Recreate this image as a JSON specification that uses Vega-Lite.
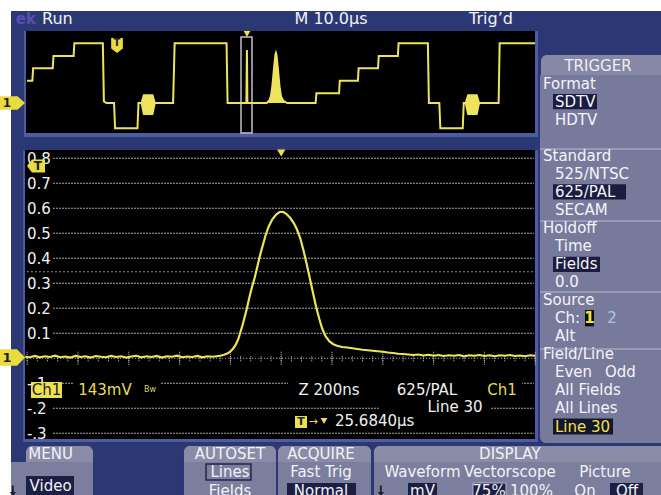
{
"$schema": "https://vega.github.io/schema/vega-lite/v6.json",
"width": 661, "height": 495,
"autosize": {"type": "none"},
"padding": 0,
"background": "#ffffff",
"config": {"view": {"stroke": null}, "text": {"font": "DejaVu Sans", "fontSize": 15}},
"datasets": {
"one": [{}],
"grid": [{"v":0.8,"lab":"0.8"},{"v":0.7,"lab":"0.7"},{"v":0.6,"lab":"0.6"},{"v":0.5,"lab":"0.5"},{"v":0.4,"lab":"0.4"},{"v":0.3,"lab":"0.3"},{"v":0.2,"lab":"0.2"},{"v":0.1,"lab":"0.1"},{"v":-0.1,"lab":"-.1"},{"v":-0.2,"lab":"-.2"},{"v":-0.3,"lab":"-.3"}],
"minor": [{"t":-1000},{"t":-960},{"t":-920},{"t":-880},{"t":-840},{"t":-800},{"t":-760},{"t":-720},{"t":-680},{"t":-640},{"t":-600},{"t":-560},{"t":-520},{"t":-480},{"t":-440},{"t":-400},{"t":-360},{"t":-320},{"t":-280},{"t":-240},{"t":-200},{"t":-160},{"t":-120},{"t":-80},{"t":-40},{"t":0},{"t":40},{"t":80},{"t":120},{"t":160},{"t":200},{"t":240},{"t":280},{"t":320},{"t":360},{"t":400},{"t":440},{"t":480},{"t":520},{"t":560},{"t":600},{"t":640},{"t":680},{"t":720},{"t":760},{"t":800},{"t":840},{"t":880},{"t":920},{"t":960},{"t":1000}],
"major": [{"t":-1000},{"t":-800},{"t":-600},{"t":-400},{"t":-200},{"t":0},{"t":200},{"t":400},{"t":600},{"t":800},{"t":1000}],
"pulse": [{"t":-1008,"v":0.006},{"t":-990,"v":0.004},{"t":-970,"v":0.009},{"t":-950,"v":0.004},{"t":-930,"v":0.008},{"t":-910,"v":0.005},{"t":-890,"v":0.010},{"t":-870,"v":0.004},{"t":-850,"v":0.007},{"t":-830,"v":0.003},{"t":-810,"v":0.009},{"t":-790,"v":0.005},{"t":-770,"v":0.008},{"t":-750,"v":0.003},{"t":-730,"v":0.009},{"t":-710,"v":0.006},{"t":-690,"v":0.004},{"t":-670,"v":0.009},{"t":-650,"v":0.005},{"t":-630,"v":0.008},{"t":-610,"v":0.003},{"t":-590,"v":0.007},{"t":-570,"v":0.010},{"t":-550,"v":0.004},{"t":-530,"v":0.008},{"t":-510,"v":0.005},{"t":-490,"v":0.009},{"t":-470,"v":0.003},{"t":-450,"v":0.008},{"t":-430,"v":0.006},{"t":-410,"v":0.010},{"t":-390,"v":0.004},{"t":-370,"v":0.007},{"t":-350,"v":0.005},{"t":-330,"v":0.009},{"t":-310,"v":0.004},{"t":-290,"v":0.008},{"t":-270,"v":0.006},{"t":-255,"v":0.008},{"t":-240,"v":0.010},{"t":-225,"v":0.014},{"t":-210,"v":0.020},{"t":-200,"v":0.027},{"t":-190,"v":0.038},{"t":-180,"v":0.052},{"t":-170,"v":0.074},{"t":-162,"v":0.10},{"t":-153,"v":0.13},{"t":-145,"v":0.16},{"t":-135,"v":0.20},{"t":-125,"v":0.245},{"t":-115,"v":0.285},{"t":-105,"v":0.32},{"t":-95,"v":0.362},{"t":-85,"v":0.405},{"t":-75,"v":0.443},{"t":-62,"v":0.49},{"t":-50,"v":0.525},{"t":-35,"v":0.556},{"t":-20,"v":0.575},{"t":-8,"v":0.584},{"t":0,"v":0.586},{"t":8,"v":0.585},{"t":20,"v":0.578},{"t":35,"v":0.562},{"t":50,"v":0.54},{"t":62,"v":0.515},{"t":75,"v":0.48},{"t":88,"v":0.43},{"t":100,"v":0.378},{"t":113,"v":0.318},{"t":125,"v":0.262},{"t":137,"v":0.207},{"t":150,"v":0.157},{"t":162,"v":0.117},{"t":175,"v":0.087},{"t":190,"v":0.067},{"t":205,"v":0.056},{"t":220,"v":0.050},{"t":240,"v":0.045},{"t":260,"v":0.043},{"t":280,"v":0.040},{"t":300,"v":0.037},{"t":320,"v":0.034},{"t":340,"v":0.032},{"t":360,"v":0.030},{"t":380,"v":0.028},{"t":400,"v":0.026},{"t":420,"v":0.023},{"t":440,"v":0.021},{"t":460,"v":0.018},{"t":480,"v":0.017},{"t":500,"v":0.015},{"t":520,"v":0.013},{"t":540,"v":0.015},{"t":560,"v":0.011},{"t":580,"v":0.014},{"t":600,"v":0.010},{"t":620,"v":0.013},{"t":640,"v":0.009},{"t":660,"v":0.012},{"t":680,"v":0.010},{"t":700,"v":0.013},{"t":720,"v":0.008},{"t":740,"v":0.012},{"t":760,"v":0.010},{"t":780,"v":0.013},{"t":800,"v":0.009},{"t":820,"v":0.012},{"t":840,"v":0.008},{"t":860,"v":0.012},{"t":880,"v":0.010},{"t":900,"v":0.013},{"t":920,"v":0.009},{"t":940,"v":0.011},{"t":960,"v":0.008},{"t":980,"v":0.012},{"t":999,"v":0.010}],
"overview": [{"t":0.2,"v":0.268},{"t":1.25,"v":0.268},{"t":1.4,"v":0.416},{"t":5.25,"v":0.416},{"t":5.4,"v":0.564},{"t":9.35,"v":0.564},{"t":9.5,"v":0.716},{"t":15.1,"v":0.716},{"t":15.3,"v":0.02},{"t":15.8,"v":0.0},{"t":17.3,"v":0.0},{"t":17.5,"v":-0.304},{"t":21.9,"v":-0.304},{"t":22.1,"v":0.0},{"t":28.9,"v":0.0},{"t":29.2,"v":0.716},{"t":39.4,"v":0.716},{"t":39.6,"v":0.0},{"t":43.3,"v":0.0},{"t":43.4,"v":0.636},{"t":43.5,"v":0.0},{"t":47.3,"v":0.0},{"t":47.8,"v":0.03},{"t":48.1,"v":0.08},{"t":48.4,"v":0.2},{"t":48.7,"v":0.4},{"t":49.0,"v":0.58},{"t":49.1,"v":0.6},{"t":49.2,"v":0.58},{"t":49.5,"v":0.4},{"t":49.8,"v":0.2},{"t":50.1,"v":0.08},{"t":50.5,"v":0.03},{"t":51.3,"v":0.0},{"t":56.9,"v":0.0},{"t":57.05,"v":0.116},{"t":61.5,"v":0.116},{"t":61.65,"v":0.268},{"t":65.2,"v":0.268},{"t":65.35,"v":0.416},{"t":69.15,"v":0.416},{"t":69.3,"v":0.564},{"t":73.05,"v":0.564},{"t":73.2,"v":0.716},{"t":78.95,"v":0.716},{"t":79.15,"v":0.0},{"t":81.2,"v":0.0},{"t":81.4,"v":-0.304},{"t":85.8,"v":-0.304},{"t":86.0,"v":0.0},{"t":92.85,"v":0.0},{"t":93.05,"v":0.716},{"t":100,"v":0.716}],
"ovpulse": [{"t":47.3,"v":0.0},{"t":47.8,"v":0.03},{"t":48.1,"v":0.08},{"t":48.4,"v":0.2},{"t":48.7,"v":0.4},{"t":49.0,"v":0.58},{"t":49.1,"v":0.6},{"t":49.2,"v":0.58},{"t":49.5,"v":0.4},{"t":49.8,"v":0.2},{"t":50.1,"v":0.08},{"t":50.5,"v":0.03},{"t":51.3,"v":0.0}],
"burst": [{"g":1,"t":22.5,"hi":0,"lo":0},{"g":1,"t":23.0,"hi":0.104,"lo":-0.144},{"g":1,"t":25.0,"hi":0.104,"lo":-0.144},{"g":1,"t":25.5,"hi":0,"lo":0},{"g":2,"t":86.2,"hi":0,"lo":0},{"g":2,"t":86.7,"hi":0.104,"lo":-0.144},{"g":2,"t":88.7,"hi":0.104,"lo":-0.144},{"g":2,"t":89.2,"hi":0,"lo":0}],
"seps": [{"line":4.63},{"line":8.62},{"line":12.55},{"line":15.71}],
"heads": [{"label":"Format","line":1},{"label":"Standard","line":5},{"label":"Holdoff","line":9},{"label":"Source","line":13},{"label":"Field/Line","line":16}],
"opts": [{"label":"SDTV","line":2},{"label":"HDTV","line":3},{"label":"525/NTSC","line":6},{"label":"625/PAL","line":7},{"label":"SECAM","line":8},{"label":"Time","line":10},{"label":"Fields","line":11},{"label":"0.0","line":12},{"label":"Ch:","line":14},{"label":"Alt","line":15},{"label":"Even","line":17},{"label":"All Fields","line":18},{"label":"All Lines","line":19}]
},
"layer": [
{"layer": [
 {"data":{"name":"one"},"mark":{"type":"rect","color":"#2c3874"},"encoding":{"x":{"datum":-1063.7,"scale":{"domain":[-1107,1495],"nice":false,"zero":false},"axis":null},"x2":{"datum":1495},"y":{"datum":-0.547,"scale":{"domain":[-0.547,1.433],"nice":false,"zero":false},"axis":null},"y2":{"datum":1.389}}},
 {"data":{"name":"one"},"mark":{"type":"rect","color":"#4d5da0"},"encoding":{"x":{"datum":-1016,"scale":{"domain":[-1107,1495],"nice":false,"zero":false},"axis":null},"x2":{"datum":1011},"y":{"datum":-0.335,"scale":{"domain":[-0.547,1.433],"nice":false,"zero":false},"axis":null},"y2":{"datum":0.833}}},
 {"data":{"name":"one"},"mark":{"type":"rect","color":"#000000"},"encoding":{"x":{"datum":-1008.6,"scale":{"domain":[-1107,1495],"nice":false,"zero":false},"axis":null},"x2":{"datum":999},"y":{"datum":-0.323,"scale":{"domain":[-0.547,1.433],"nice":false,"zero":false},"axis":null},"y2":{"datum":0.833}}},
 {"data":{"name":"grid"},"mark":{"type":"rule","color":"#a6a6a6","strokeWidth":1,"strokeDash":[2,1]},"encoding":{"x":{"datum":-898.4,"scale":{"domain":[-1107,1495],"nice":false,"zero":false},"axis":null},"x2":{"datum":995},"y":{"field":"v","type":"quantitative","scale":{"domain":[-0.547,1.433],"nice":false,"zero":false},"axis":null}}},
 {"data":{"name":"one"},"mark":{"type":"rule","color":"#bcbcbc","strokeDash":[1.5,2.5]},"encoding":{"x":{"datum":-1000,"scale":{"domain":[-1107,1495],"nice":false,"zero":false},"axis":null},"x2":{"datum":995},"y":{"datum":0.346,"scale":{"domain":[-0.547,1.433],"nice":false,"zero":false},"axis":null}}},
 {"data":{"name":"one"},"mark":{"type":"rule","color":"#c8c8c8","strokeDash":[1,2]},"encoding":{"x":{"datum":-1000,"scale":{"domain":[-1107,1495],"nice":false,"zero":false},"axis":null},"x2":{"datum":1000},"y":{"datum":0,"scale":{"domain":[-0.547,1.433],"nice":false,"zero":false},"axis":null}}},
 {"data":{"name":"minor"},"mark":{"type":"rule","color":"#c8c8c8","strokeDash":[1,1]},"encoding":{"x":{"field":"t","type":"quantitative","scale":{"domain":[-1107,1495],"nice":false,"zero":false},"axis":null},"y":{"datum":-0.012,"scale":{"domain":[-0.547,1.433],"nice":false,"zero":false},"axis":null},"y2":{"datum":0.012}}},
 {"data":{"name":"major"},"mark":{"type":"rule","color":"#c8c8c8","strokeDash":[1,1]},"encoding":{"x":{"field":"t","type":"quantitative","scale":{"domain":[-1107,1495],"nice":false,"zero":false},"axis":null},"y":{"datum":-0.026,"scale":{"domain":[-0.547,1.433],"nice":false,"zero":false},"axis":null},"y2":{"datum":0.026}}},
 {"data":{"name":"one"},"mark":{"type":"rect","color":"#000000"},"encoding":{"x":{"datum":-815.7,"scale":{"domain":[-1107,1495],"nice":false,"zero":false},"axis":null},"x2":{"datum":-477.2},"y":{"datum":-0.163,"scale":{"domain":[-0.547,1.433],"nice":false,"zero":false},"axis":null},"y2":{"datum":-0.087}}},
 {"data":{"name":"one"},"mark":{"type":"rect","color":"#000000"},"encoding":{"x":{"datum":26.7,"scale":{"domain":[-1107,1495],"nice":false,"zero":false},"axis":null},"x2":{"datum":947.9},"y":{"datum":-0.163,"scale":{"domain":[-0.547,1.433],"nice":false,"zero":false},"axis":null},"y2":{"datum":-0.087}}},
 {"data":{"name":"one"},"mark":{"type":"rect","color":"#000000"},"encoding":{"x":{"datum":388.9,"scale":{"domain":[-1107,1495],"nice":false,"zero":false},"axis":null},"x2":{"datum":821.9},"y":{"datum":-0.227,"scale":{"domain":[-0.547,1.433],"nice":false,"zero":false},"axis":null},"y2":{"datum":-0.163}}},
 {"data":{"name":"one"},"mark":{"type":"rect","color":"#000000"},"encoding":{"x":{"datum":42.5,"scale":{"domain":[-1107,1495],"nice":false,"zero":false},"axis":null},"x2":{"datum":566},"y":{"datum":-0.287,"scale":{"domain":[-0.547,1.433],"nice":false,"zero":false},"axis":null},"y2":{"datum":-0.223}}},
 {"data":{"name":"grid"},"mark":{"type":"text","align":"left","baseline":"middle","color":"#f0f0f0","fontSize":15,"dy":1},"encoding":{"x":{"datum":-1001,"scale":{"domain":[-1107,1495],"nice":false,"zero":false},"axis":null},"y":{"field":"v","type":"quantitative","scale":{"domain":[-0.547,1.433],"nice":false,"zero":false},"axis":null},"text":{"field":"lab"}}},
 {"data":{"name":"pulse"},"mark":{"type":"line","color":"#eee35c","strokeWidth":2.2},"encoding":{"x":{"field":"t","type":"quantitative","scale":{"domain":[-1107,1495],"nice":false,"zero":false},"axis":null},"y":{"field":"v","type":"quantitative","scale":{"domain":[-0.547,1.433],"nice":false,"zero":false},"axis":null}}},
 {"data":{"name":"one"},"mark":{"type":"point","shape":"triangle-down","filled":true,"opacity":1,"color":"#eee04a","size":70},"encoding":{"x":{"datum":0,"scale":{"domain":[-1107,1495],"nice":false,"zero":false},"axis":null},"y":{"datum":0.821,"scale":{"domain":[-0.547,1.433],"nice":false,"zero":false},"axis":null}}},
 {"data":{"name":"one"},"mark":{"type":"point","shape":"M-1,0L-0.45,-0.72L1,-0.72L1,0.72L-0.45,0.72Z","filled":true,"opacity":1,"color":"#e9dc40","size":324},"encoding":{"x":{"datum":-965.3,"scale":{"domain":[-1107,1495],"nice":false,"zero":false},"axis":null},"y":{"datum":0.769,"scale":{"domain":[-0.547,1.433],"nice":false,"zero":false},"axis":null}}},
 {"data":{"name":"one"},"mark":{"type":"text","text":"T","align":"center","baseline":"middle","fontSize":12,"fontWeight":"bold","color":"#1c1c30"},"encoding":{"x":{"datum":-958,"scale":{"domain":[-1107,1495],"nice":false,"zero":false},"axis":null},"y":{"datum":0.769,"scale":{"domain":[-0.547,1.433],"nice":false,"zero":false},"axis":null}}},
 {"data":{"name":"one"},"mark":{"type":"point","shape":"M-1,-0.66L0.36,-0.66L1,0L0.36,0.66L-1,0.66Z","filled":true,"opacity":1,"color":"#e9dc3c","size":625},"encoding":{"x":{"datum":-1057.8,"scale":{"domain":[-1107,1495],"nice":false,"zero":false},"axis":null},"y":{"datum":0.003,"scale":{"domain":[-0.547,1.433],"nice":false,"zero":false},"axis":null}}},
 {"data":{"name":"one"},"mark":{"type":"text","text":"1","align":"center","baseline":"middle","fontSize":13,"fontWeight":"bold","color":"#1c1c30"},"encoding":{"x":{"datum":-1079.4,"scale":{"domain":[-1107,1495],"nice":false,"zero":false},"axis":null},"y":{"datum":0.003,"scale":{"domain":[-0.547,1.433],"nice":false,"zero":false},"axis":null}}},
 {"data":{"name":"one"},"mark":{"type":"rect","color":"#ede24a"},"encoding":{"x":{"datum":-985,"scale":{"domain":[-1107,1495],"nice":false,"zero":false},"axis":null},"x2":{"datum":-863},"y":{"datum":-0.159,"scale":{"domain":[-0.547,1.433],"nice":false,"zero":false},"axis":null},"y2":{"datum":-0.095}}},
 {"data":{"name":"one"},"mark":{"type":"text","text":"Ch1","align":"center","baseline":"middle","color":"#202040"},"encoding":{"x":{"datum":-924,"scale":{"domain":[-1107,1495],"nice":false,"zero":false},"axis":null},"y":{"datum":-0.127,"scale":{"domain":[-0.547,1.433],"nice":false,"zero":false},"axis":null}}},
 {"data":{"name":"one"},"mark":{"type":"text","text":"143mV","align":"center","baseline":"middle","color":"#e8dc50"},"encoding":{"x":{"datum":-693.7,"scale":{"domain":[-1107,1495],"nice":false,"zero":false},"axis":null},"y":{"datum":-0.127,"scale":{"domain":[-0.547,1.433],"nice":false,"zero":false},"axis":null}}},
 {"data":{"name":"one"},"mark":{"type":"text","text":"Bw","align":"center","baseline":"middle","fontSize":8,"color":"#d8d070"},"encoding":{"x":{"datum":-516.5,"scale":{"domain":[-1107,1495],"nice":false,"zero":false},"axis":null},"y":{"datum":-0.127,"scale":{"domain":[-0.547,1.433],"nice":false,"zero":false},"axis":null}}},
 {"data":{"name":"one"},"mark":{"type":"text","text":"Z 200ns","align":"center","baseline":"middle","color":"#f0f0f0"},"encoding":{"x":{"datum":188.1,"scale":{"domain":[-1107,1495],"nice":false,"zero":false},"axis":null},"y":{"datum":-0.127,"scale":{"domain":[-0.547,1.433],"nice":false,"zero":false},"axis":null}}},
 {"data":{"name":"one"},"mark":{"type":"text","text":"625/PAL","align":"center","baseline":"middle","color":"#f0f0f0"},"encoding":{"x":{"datum":573.9,"scale":{"domain":[-1107,1495],"nice":false,"zero":false},"axis":null},"y":{"datum":-0.127,"scale":{"domain":[-0.547,1.433],"nice":false,"zero":false},"axis":null}}},
 {"data":{"name":"one"},"mark":{"type":"text","text":"Ch1","align":"center","baseline":"middle","color":"#e8dc50"},"encoding":{"x":{"datum":869.1,"scale":{"domain":[-1107,1495],"nice":false,"zero":false},"axis":null},"y":{"datum":-0.127,"scale":{"domain":[-0.547,1.433],"nice":false,"zero":false},"axis":null}}},
 {"data":{"name":"one"},"mark":{"type":"text","text":"Line 30","align":"center","baseline":"middle","color":"#f0f0f0"},"encoding":{"x":{"datum":684.1,"scale":{"domain":[-1107,1495],"nice":false,"zero":false},"axis":null},"y":{"datum":-0.194,"scale":{"domain":[-0.547,1.433],"nice":false,"zero":false},"axis":null}}},
 {"data":{"name":"one"},"mark":{"type":"rect","color":"#ede24a"},"encoding":{"x":{"datum":54.3,"scale":{"domain":[-1107,1495],"nice":false,"zero":false},"axis":null},"x2":{"datum":101.5},"y":{"datum":-0.279,"scale":{"domain":[-0.547,1.433],"nice":false,"zero":false},"axis":null},"y2":{"datum":-0.231}}},
 {"data":{"name":"one"},"mark":{"type":"text","text":"T","align":"center","baseline":"middle","fontSize":11,"fontWeight":"bold","color":"#202040"},"encoding":{"x":{"datum":77.9,"scale":{"domain":[-1107,1495],"nice":false,"zero":false},"axis":null},"y":{"datum":-0.255,"scale":{"domain":[-0.547,1.433],"nice":false,"zero":false},"axis":null}}},
 {"data":{"name":"one"},"mark":{"type":"text","text":"→","align":"center","baseline":"middle","fontSize":11,"color":"#e8dc50"},"encoding":{"x":{"datum":125.1,"scale":{"domain":[-1107,1495],"nice":false,"zero":false},"axis":null},"y":{"datum":-0.255,"scale":{"domain":[-0.547,1.433],"nice":false,"zero":false},"axis":null}}},
 {"data":{"name":"one"},"mark":{"type":"point","shape":"triangle-down","filled":true,"opacity":1,"color":"#eee04a","size":45},"encoding":{"x":{"datum":168.4,"scale":{"domain":[-1107,1495],"nice":false,"zero":false},"axis":null},"y":{"datum":-0.251,"scale":{"domain":[-0.547,1.433],"nice":false,"zero":false},"axis":null}}},
 {"data":{"name":"one"},"mark":{"type":"text","text":"25.6840µs","align":"left","baseline":"middle","color":"#f0f0f0"},"encoding":{"x":{"datum":211.7,"scale":{"domain":[-1107,1495],"nice":false,"zero":false},"axis":null},"y":{"datum":-0.251,"scale":{"domain":[-0.547,1.433],"nice":false,"zero":false},"axis":null}}},
 {"data":{"name":"one"},"mark":{"type":"text","text":"ek","align":"right","baseline":"middle","fontSize":15,"fontWeight":"bold","color":"#5b4fb0"},"encoding":{"x":{"datum":-965.3,"scale":{"domain":[-1107,1495],"nice":false,"zero":false},"axis":null},"y":{"datum":1.357,"scale":{"domain":[-0.547,1.433],"nice":false,"zero":false},"axis":null}}},
 {"data":{"name":"one"},"mark":{"type":"text","text":"Run","align":"left","baseline":"middle","fontSize":16,"color":"#f2f2f2"},"encoding":{"x":{"datum":-941.7,"scale":{"domain":[-1107,1495],"nice":false,"zero":false},"axis":null},"y":{"datum":1.357,"scale":{"domain":[-0.547,1.433],"nice":false,"zero":false},"axis":null}}},
 {"data":{"name":"one"},"mark":{"type":"text","text":"M 10.0µs","align":"center","baseline":"middle","fontSize":16,"color":"#f2f2f2"},"encoding":{"x":{"datum":196,"scale":{"domain":[-1107,1495],"nice":false,"zero":false},"axis":null},"y":{"datum":1.357,"scale":{"domain":[-0.547,1.433],"nice":false,"zero":false},"axis":null}}},
 {"data":{"name":"one"},"mark":{"type":"text","text":"Trig’d","align":"center","baseline":"middle","fontSize":16,"color":"#f2f2f2"},"encoding":{"x":{"datum":825.8,"scale":{"domain":[-1107,1495],"nice":false,"zero":false},"axis":null},"y":{"datum":1.357,"scale":{"domain":[-0.547,1.433],"nice":false,"zero":false},"axis":null}}}
]},
{"layer": [
 {"data":{"name":"one"},"mark":{"type":"rect","color":"#4d5da0"},"encoding":{"x":{"datum":-0.393,"scale":{"domain":[-5.108,124.75],"nice":false,"zero":false},"axis":null},"x2":{"datum":100.59},"y":{"datum":-0.408,"scale":{"domain":[-4.706,1.2365],"nice":false,"zero":false},"axis":null},"y2":{"datum":0.864}}},
 {"data":{"name":"one"},"mark":{"type":"rect","color":"#000000"},"encoding":{"x":{"datum":0,"scale":{"domain":[-5.108,124.75],"nice":false,"zero":false},"axis":null},"x2":{"datum":100},"y":{"datum":-0.36,"scale":{"domain":[-4.706,1.2365],"nice":false,"zero":false},"axis":null},"y2":{"datum":0.864}}},
 {"data":{"name":"one"},"mark":{"type":"rect","filled":false,"stroke":"#c0c0c8","strokeWidth":1.5},"encoding":{"x":{"datum":42.24,"scale":{"domain":[-5.108,124.75],"nice":false,"zero":false},"axis":null},"x2":{"datum":44.4},"y":{"datum":-0.36,"scale":{"domain":[-4.706,1.2365],"nice":false,"zero":false},"axis":null},"y2":{"datum":0.792}}},
 {"data":{"name":"burst"},"mark":{"type":"area","color":"#eee35c","opacity":1},"encoding":{"x":{"field":"t","type":"quantitative","scale":{"domain":[-5.108,124.75],"nice":false,"zero":false},"axis":null},"y":{"field":"hi","type":"quantitative","scale":{"domain":[-4.706,1.2365],"nice":false,"zero":false},"axis":null},"y2":{"field":"lo"},"detail":{"field":"g","type":"nominal"}}},
 {"data":{"name":"ovpulse"},"mark":{"type":"area","color":"#eee35c","opacity":1},"encoding":{"x":{"field":"t","type":"quantitative","scale":{"domain":[-5.108,124.75],"nice":false,"zero":false},"axis":null},"y":{"field":"v","type":"quantitative","scale":{"domain":[-4.706,1.2365],"nice":false,"zero":false},"axis":null},"y2":{"datum":0}}},
 {"data":{"name":"overview"},"mark":{"type":"line","color":"#eee35c","strokeWidth":2},"encoding":{"x":{"field":"t","type":"quantitative","scale":{"domain":[-5.108,124.75],"nice":false,"zero":false},"axis":null},"y":{"field":"v","type":"quantitative","scale":{"domain":[-4.706,1.2365],"nice":false,"zero":false},"axis":null}}},
 {"data":{"name":"one"},"mark":{"type":"point","shape":"M-0.78,-1L0.78,-1L0.78,0.4L0,1L-0.78,0.4Z","filled":true,"opacity":1,"color":"#e9dc40","size":225},"encoding":{"x":{"datum":17.88,"scale":{"domain":[-5.108,124.75],"nice":false,"zero":false},"axis":null},"y":{"datum":0.69,"scale":{"domain":[-4.706,1.2365],"nice":false,"zero":false},"axis":null}}},
 {"data":{"name":"one"},"mark":{"type":"text","text":"T","align":"center","baseline":"middle","fontSize":10,"fontWeight":"bold","color":"#1c1c30"},"encoding":{"x":{"datum":17.88,"scale":{"domain":[-5.108,124.75],"nice":false,"zero":false},"axis":null},"y":{"datum":0.72,"scale":{"domain":[-4.706,1.2365],"nice":false,"zero":false},"axis":null}}},
 {"data":{"name":"one"},"mark":{"type":"point","shape":"triangle-down","filled":true,"opacity":1,"color":"#eee04a","size":45},"encoding":{"x":{"datum":43.42,"scale":{"domain":[-5.108,124.75],"nice":false,"zero":false},"axis":null},"y":{"datum":0.828,"scale":{"domain":[-4.706,1.2365],"nice":false,"zero":false},"axis":null}}},
 {"data":{"name":"one"},"mark":{"type":"point","shape":"M-1,-0.54L0.4,-0.54L1,0L0.4,0.54L-1,0.54Z","filled":true,"opacity":1,"color":"#e9dc3c","size":625},"encoding":{"x":{"datum":-2.652,"scale":{"domain":[-5.108,124.75],"nice":false,"zero":false},"axis":null},"y":{"datum":0,"scale":{"domain":[-4.706,1.2365],"nice":false,"zero":false},"axis":null}}},
 {"data":{"name":"one"},"mark":{"type":"text","text":"1","align":"center","baseline":"middle","fontSize":12,"fontWeight":"bold","color":"#1c1c30"},"encoding":{"x":{"datum":-3.733,"scale":{"domain":[-5.108,124.75],"nice":false,"zero":false},"axis":null},"y":{"datum":0,"scale":{"domain":[-4.706,1.2365],"nice":false,"zero":false},"axis":null}}}
]},
{"layer": [
 {"data":{"name":"one"},"mark":{"type":"rect","color":"#787a9c","cornerRadiusBottomLeft":6},"encoding":{"x":{"datum":1018.7,"scale":{"domain":[-1107,1495],"nice":false,"zero":false},"axis":null},"x2":{"datum":1495},"y":{"datum":0.526,"scale":{"domain":[-3.629,23.795],"reverse":true,"nice":false,"zero":false},"axis":null},"y2":{"datum":20.91}}},
 {"data":{"name":"one"},"mark":{"type":"rect","color":"#8688a6","cornerRadiusTopLeft":6},"encoding":{"x":{"datum":1022.6,"scale":{"domain":[-1107,1495],"nice":false,"zero":false},"axis":null},"x2":{"datum":1495},"y":{"datum":-0.58,"scale":{"domain":[-3.629,23.795],"reverse":true,"nice":false,"zero":false},"axis":null},"y2":{"datum":0.526}}},
 {"data":{"name":"seps"},"mark":{"type":"rule","color":"#a4a6c0","strokeWidth":1.5},"encoding":{"x":{"datum":1018.7,"scale":{"domain":[-1107,1495],"nice":false,"zero":false},"axis":null},"x2":{"datum":1495},"y":{"field":"line","type":"quantitative","scale":{"domain":[-3.629,23.795],"reverse":true,"nice":false,"zero":false},"axis":null}}},
 {"data":{"name":"one"},"mark":{"type":"rect","color":"#1a1d40"},"encoding":{"x":{"datum":1069.9,"scale":{"domain":[-1107,1495],"nice":false,"zero":false},"axis":null},"x2":{"datum":1243.1},"y":{"datum":1.58,"scale":{"domain":[-3.629,23.795],"reverse":true,"nice":false,"zero":false},"axis":null},"y2":{"datum":2.42}}},
 {"data":{"name":"one"},"mark":{"type":"rect","color":"#1a1d40"},"encoding":{"x":{"datum":1069.9,"scale":{"domain":[-1107,1495],"nice":false,"zero":false},"axis":null},"x2":{"datum":1357.2},"y":{"datum":6.58,"scale":{"domain":[-3.629,23.795],"reverse":true,"nice":false,"zero":false},"axis":null},"y2":{"datum":7.42}}},
 {"data":{"name":"one"},"mark":{"type":"rect","color":"#1a1d40"},"encoding":{"x":{"datum":1069.9,"scale":{"domain":[-1107,1495],"nice":false,"zero":false},"axis":null},"x2":{"datum":1254.9},"y":{"datum":10.6,"scale":{"domain":[-3.629,23.795],"reverse":true,"nice":false,"zero":false},"axis":null},"y2":{"datum":11.44}}},
 {"data":{"name":"one"},"mark":{"type":"rect","color":"#0c0c14"},"encoding":{"x":{"datum":1195.9,"scale":{"domain":[-1107,1495],"nice":false,"zero":false},"axis":null},"x2":{"datum":1231.3},"y":{"datum":13.55,"scale":{"domain":[-3.629,23.795],"reverse":true,"nice":false,"zero":false},"axis":null},"y2":{"datum":14.45}}},
 {"data":{"name":"one"},"mark":{"type":"rect","color":"#14162c"},"encoding":{"x":{"datum":1069.9,"scale":{"domain":[-1107,1495],"nice":false,"zero":false},"axis":null},"x2":{"datum":1306.1},"y":{"datum":19.55,"scale":{"domain":[-3.629,23.795],"reverse":true,"nice":false,"zero":false},"axis":null},"y2":{"datum":20.45}}},
 {"data":{"name":"one"},"mark":{"type":"text","text":"TRIGGER","align":"center","baseline":"middle","color":"#eeeef4"},"encoding":{"x":{"datum":1247,"scale":{"domain":[-1107,1495],"nice":false,"zero":false},"axis":null},"y":{"datum":0,"scale":{"domain":[-3.629,23.795],"reverse":true,"nice":false,"zero":false},"axis":null}}},
 {"data":{"name":"heads"},"mark":{"type":"text","align":"left","baseline":"middle","color":"#f4f4f8"},"encoding":{"x":{"datum":1030.5,"scale":{"domain":[-1107,1495],"nice":false,"zero":false},"axis":null},"y":{"field":"line","type":"quantitative","scale":{"domain":[-3.629,23.795],"reverse":true,"nice":false,"zero":false},"axis":null},"text":{"field":"label"}}},
 {"data":{"name":"opts"},"mark":{"type":"text","align":"left","baseline":"middle","color":"#f4f4f8"},"encoding":{"x":{"datum":1077.8,"scale":{"domain":[-1107,1495],"nice":false,"zero":false},"axis":null},"y":{"field":"line","type":"quantitative","scale":{"domain":[-3.629,23.795],"reverse":true,"nice":false,"zero":false},"axis":null},"text":{"field":"label"}}},
 {"data":{"name":"one"},"mark":{"type":"text","text":"Line 30","align":"left","baseline":"middle","color":"#f0e24a"},"encoding":{"x":{"datum":1077.8,"scale":{"domain":[-1107,1495],"nice":false,"zero":false},"axis":null},"y":{"datum":20,"scale":{"domain":[-3.629,23.795],"reverse":true,"nice":false,"zero":false},"axis":null}}},
 {"data":{"name":"one"},"mark":{"type":"text","text":"Odd","align":"left","baseline":"middle","color":"#f4f4f8"},"encoding":{"x":{"datum":1274.6,"scale":{"domain":[-1107,1495],"nice":false,"zero":false},"axis":null},"y":{"datum":17,"scale":{"domain":[-3.629,23.795],"reverse":true,"nice":false,"zero":false},"axis":null}}},
 {"data":{"name":"one"},"mark":{"type":"text","text":"1","align":"center","baseline":"middle","fontWeight":"bold","color":"#f0e24a"},"encoding":{"x":{"datum":1213.6,"scale":{"domain":[-1107,1495],"nice":false,"zero":false},"axis":null},"y":{"datum":14,"scale":{"domain":[-3.629,23.795],"reverse":true,"nice":false,"zero":false},"axis":null}}},
 {"data":{"name":"one"},"mark":{"type":"text","text":"2","align":"center","baseline":"middle","color":"#a8c8e8"},"encoding":{"x":{"datum":1302,"scale":{"domain":[-1107,1495],"nice":false,"zero":false},"axis":null},"y":{"datum":14,"scale":{"domain":[-3.629,23.795],"reverse":true,"nice":false,"zero":false},"axis":null}}},
 {"data":{"name":"one"},"mark":{"type":"rect","color":"#7c7e9e"},"encoding":{"x":{"datum":-1063.7,"scale":{"domain":[-1107,1495],"nice":false,"zero":false},"axis":null},"x2":{"datum":-740.9},"y":{"datum":21.97,"scale":{"domain":[-3.629,23.795],"reverse":true,"nice":false,"zero":false},"axis":null},"y2":{"datum":23.9}}},
 {"data":{"name":"one"},"mark":{"type":"rect","color":"#8a8ca7","cornerRadiusTopLeft":6,"cornerRadiusTopRight":6},"encoding":{"x":{"datum":-1004.7,"scale":{"domain":[-1107,1495],"nice":false,"zero":false},"axis":null},"x2":{"datum":-740.9},"y":{"datum":21.08,"scale":{"domain":[-3.629,23.795],"reverse":true,"nice":false,"zero":false},"axis":null},"y2":{"datum":21.97}}},
 {"data":{"name":"one"},"mark":{"type":"rect","color":"#7c7e9e","cornerRadiusTopLeft":6,"cornerRadiusTopRight":6},"encoding":{"x":{"datum":-382.7,"scale":{"domain":[-1107,1495],"nice":false,"zero":false},"axis":null},"x2":{"datum":-20.5},"y":{"datum":21.08,"scale":{"domain":[-3.629,23.795],"reverse":true,"nice":false,"zero":false},"axis":null},"y2":{"datum":23.9}}},
 {"data":{"name":"one"},"mark":{"type":"rect","color":"#8a8ca7","cornerRadiusTopLeft":6,"cornerRadiusTopRight":6},"encoding":{"x":{"datum":-382.7,"scale":{"domain":[-1107,1495],"nice":false,"zero":false},"axis":null},"x2":{"datum":-20.5},"y":{"datum":21.08,"scale":{"domain":[-3.629,23.795],"reverse":true,"nice":false,"zero":false},"axis":null},"y2":{"datum":21.97}}},
 {"data":{"name":"one"},"mark":{"type":"rect","color":"#7c7e9e","cornerRadiusTopLeft":6,"cornerRadiusTopRight":6},"encoding":{"x":{"datum":-12.6,"scale":{"domain":[-1107,1495],"nice":false,"zero":false},"axis":null},"x2":{"datum":353.4},"y":{"datum":21.08,"scale":{"domain":[-3.629,23.795],"reverse":true,"nice":false,"zero":false},"axis":null},"y2":{"datum":23.9}}},
 {"data":{"name":"one"},"mark":{"type":"rect","color":"#8a8ca7","cornerRadiusTopLeft":6,"cornerRadiusTopRight":6},"encoding":{"x":{"datum":-12.6,"scale":{"domain":[-1107,1495],"nice":false,"zero":false},"axis":null},"x2":{"datum":353.4},"y":{"datum":21.08,"scale":{"domain":[-3.629,23.795],"reverse":true,"nice":false,"zero":false},"axis":null},"y2":{"datum":21.97}}},
 {"data":{"name":"one"},"mark":{"type":"rect","color":"#7c7e9e","cornerRadiusTopLeft":6},"encoding":{"x":{"datum":365.3,"scale":{"domain":[-1107,1495],"nice":false,"zero":false},"axis":null},"x2":{"datum":1495},"y":{"datum":21.08,"scale":{"domain":[-3.629,23.795],"reverse":true,"nice":false,"zero":false},"axis":null},"y2":{"datum":23.9}}},
 {"data":{"name":"one"},"mark":{"type":"rect","color":"#8a8ca7","cornerRadiusTopLeft":6},"encoding":{"x":{"datum":365.3,"scale":{"domain":[-1107,1495],"nice":false,"zero":false},"axis":null},"x2":{"datum":1495},"y":{"datum":21.08,"scale":{"domain":[-3.629,23.795],"reverse":true,"nice":false,"zero":false},"axis":null},"y2":{"datum":21.97}}},
 {"data":{"name":"one"},"mark":{"type":"rect","color":"#1c1f44"},"encoding":{"x":{"datum":-1004.7,"scale":{"domain":[-1107,1495],"nice":false,"zero":false},"axis":null},"x2":{"datum":-815.7},"y":{"datum":22.74,"scale":{"domain":[-3.629,23.795],"reverse":true,"nice":false,"zero":false},"axis":null},"y2":{"datum":23.9}}},
 {"data":{"name":"one"},"mark":{"type":"rect","filled":false,"stroke":"#20254d","strokeWidth":1.5},"encoding":{"x":{"datum":-296,"scale":{"domain":[-1107,1495],"nice":false,"zero":false},"axis":null},"x2":{"datum":-119},"y":{"datum":22.08,"scale":{"domain":[-3.629,23.795],"reverse":true,"nice":false,"zero":false},"axis":null},"y2":{"datum":22.96}}},
 {"data":{"name":"one"},"mark":{"type":"rect","color":"#1c1f44"},"encoding":{"x":{"datum":22.8,"scale":{"domain":[-1107,1495],"nice":false,"zero":false},"axis":null},"x2":{"datum":294.4},"y":{"datum":23.13,"scale":{"domain":[-3.629,23.795],"reverse":true,"nice":false,"zero":false},"axis":null},"y2":{"datum":23.9}}},
 {"data":{"name":"one"},"mark":{"type":"rect","color":"#1c1f44"},"encoding":{"x":{"datum":499.1,"scale":{"domain":[-1107,1495],"nice":false,"zero":false},"axis":null},"x2":{"datum":613.3},"y":{"datum":23.13,"scale":{"domain":[-3.629,23.795],"reverse":true,"nice":false,"zero":false},"axis":null},"y2":{"datum":23.9}}},
 {"data":{"name":"one"},"mark":{"type":"rect","color":"#1c1f44","stroke":"#b8b8cc","strokeWidth":1},"encoding":{"x":{"datum":754.9,"scale":{"domain":[-1107,1495],"nice":false,"zero":false},"axis":null},"x2":{"datum":884.8},"y":{"datum":23.13,"scale":{"domain":[-3.629,23.795],"reverse":true,"nice":false,"zero":false},"axis":null},"y2":{"datum":23.9}}},
 {"data":{"name":"one"},"mark":{"type":"rect","color":"#1c1f44"},"encoding":{"x":{"datum":1294.3,"scale":{"domain":[-1107,1495],"nice":false,"zero":false},"axis":null},"x2":{"datum":1424.2},"y":{"datum":23.13,"scale":{"domain":[-3.629,23.795],"reverse":true,"nice":false,"zero":false},"axis":null},"y2":{"datum":23.9}}},
 {"data":{"values":[{"label":"MENU","line":21.5},{"label":"Video","line":23.27}]},"mark":{"type":"text","align":"center","baseline":"middle","color":"#f2f2f6"},"encoding":{"x":{"datum":-908,"scale":{"domain":[-1107,1495],"nice":false,"zero":false},"axis":null},"y":{"field":"line","type":"quantitative","scale":{"domain":[-3.629,23.795],"reverse":true,"nice":false,"zero":false},"axis":null},"text":{"field":"label"}}},
 {"data":{"values":[{"label":"AUTOSET","line":21.5},{"label":"Lines","line":22.5},{"label":"Fields","line":23.55}]},"mark":{"type":"text","align":"center","baseline":"middle","color":"#f2f2f6"},"encoding":{"x":{"datum":-201.6,"scale":{"domain":[-1107,1495],"nice":false,"zero":false},"axis":null},"y":{"field":"line","type":"quantitative","scale":{"domain":[-3.629,23.795],"reverse":true,"nice":false,"zero":false},"axis":null},"text":{"field":"label"}}},
 {"data":{"values":[{"label":"ACQUIRE","line":21.5},{"label":"Fast Trig","line":22.5},{"label":"Normal","line":23.55}]},"mark":{"type":"text","align":"center","baseline":"middle","color":"#f2f2f6"},"encoding":{"x":{"datum":156.6,"scale":{"domain":[-1107,1495],"nice":false,"zero":false},"axis":null},"y":{"field":"line","type":"quantitative","scale":{"domain":[-3.629,23.795],"reverse":true,"nice":false,"zero":false},"axis":null},"text":{"field":"label"}}},
 {"data":{"values":[{"label":"DISPLAY","line":21.5},{"label":"Vectorscope","line":22.5}]},"mark":{"type":"text","align":"center","baseline":"middle","color":"#f2f2f6"},"encoding":{"x":{"datum":900,"scale":{"domain":[-1107,1495],"nice":false,"zero":false},"axis":null},"y":{"field":"line","type":"quantitative","scale":{"domain":[-3.629,23.795],"reverse":true,"nice":false,"zero":false},"axis":null},"text":{"field":"label"}}},
 {"data":{"values":[{"label":"Waveform","line":22.5},{"label":"mV","line":23.55}]},"mark":{"type":"text","align":"center","baseline":"middle","color":"#f2f2f6"},"encoding":{"x":{"datum":556,"scale":{"domain":[-1107,1495],"nice":false,"zero":false},"axis":null},"y":{"field":"line","type":"quantitative","scale":{"domain":[-3.629,23.795],"reverse":true,"nice":false,"zero":false},"axis":null},"text":{"field":"label"}}},
 {"data":{"values":[{"label":"75%","line":23.55}]},"mark":{"type":"text","align":"center","baseline":"middle","color":"#f2f2f6"},"encoding":{"x":{"datum":817.9,"scale":{"domain":[-1107,1495],"nice":false,"zero":false},"axis":null},"y":{"field":"line","type":"quantitative","scale":{"domain":[-3.629,23.795],"reverse":true,"nice":false,"zero":false},"axis":null},"text":{"field":"label"}}},
 {"data":{"values":[{"label":"100%","line":23.55}]},"mark":{"type":"text","align":"center","baseline":"middle","color":"#f2f2f6"},"encoding":{"x":{"datum":985,"scale":{"domain":[-1107,1495],"nice":false,"zero":false},"axis":null},"y":{"field":"line","type":"quantitative","scale":{"domain":[-3.629,23.795],"reverse":true,"nice":false,"zero":false},"axis":null},"text":{"field":"label"}}},
 {"data":{"values":[{"label":"Picture","line":22.5}]},"mark":{"type":"text","align":"center","baseline":"middle","color":"#f2f2f6"},"encoding":{"x":{"datum":1274.6,"scale":{"domain":[-1107,1495],"nice":false,"zero":false},"axis":null},"y":{"field":"line","type":"quantitative","scale":{"domain":[-3.629,23.795],"reverse":true,"nice":false,"zero":false},"axis":null},"text":{"field":"label"}}},
 {"data":{"values":[{"label":"On","line":23.55}]},"mark":{"type":"text","align":"center","baseline":"middle","color":"#f2f2f6"},"encoding":{"x":{"datum":1195.9,"scale":{"domain":[-1107,1495],"nice":false,"zero":false},"axis":null},"y":{"field":"line","type":"quantitative","scale":{"domain":[-3.629,23.795],"reverse":true,"nice":false,"zero":false},"axis":null},"text":{"field":"label"}}},
 {"data":{"values":[{"label":"Off","line":23.55}]},"mark":{"type":"text","align":"center","baseline":"middle","color":"#f2f2f6"},"encoding":{"x":{"datum":1361.2,"scale":{"domain":[-1107,1495],"nice":false,"zero":false},"axis":null},"y":{"field":"line","type":"quantitative","scale":{"domain":[-3.629,23.795],"reverse":true,"nice":false,"zero":false},"axis":null},"text":{"field":"label"}}},
 {"data":{"values":[{"label":"↓","line":23.6}]},"mark":{"type":"text","align":"center","baseline":"middle","fontSize":13,"fontWeight":"bold","color":"#101018"},"encoding":{"x":{"datum":-1055.8,"scale":{"domain":[-1107,1495],"nice":false,"zero":false},"axis":null},"y":{"field":"line","type":"quantitative","scale":{"domain":[-3.629,23.795],"reverse":true,"nice":false,"zero":false},"axis":null},"text":{"field":"label"}}},
 {"data":{"values":[{"label":"↓","line":23.6}]},"mark":{"type":"text","align":"center","baseline":"middle","fontSize":13,"fontWeight":"bold","color":"#101018"},"encoding":{"x":{"datum":392.8,"scale":{"domain":[-1107,1495],"nice":false,"zero":false},"axis":null},"y":{"field":"line","type":"quantitative","scale":{"domain":[-3.629,23.795],"reverse":true,"nice":false,"zero":false},"axis":null},"text":{"field":"label"}}}
]}
],
"resolve": {"scale": {"x": "independent", "y": "independent"}}
}
